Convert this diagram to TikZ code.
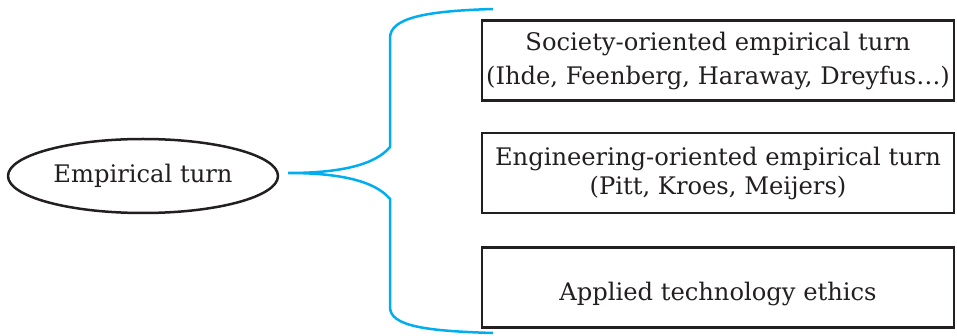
\documentclass[tikz,border=0pt]{standalone}
\usepackage{fontspec}
\setmainfont{DejaVu Serif}
\usetikzlibrary{shapes.geometric}
\usetikzlibrary{positioning}
\definecolor{bracecyan}{RGB}{0,174,239}
\definecolor{inkgray}{RGB}{35,31,32}

\begin{document}
\begin{tikzpicture}[x=1pt,y=-1pt,
  turnfont/.style={font=\fontsize{24.2}{31}\selectfont, text=inkgray},
  turnbox/.style={turnfont, draw=inkgray, line width=2.5pt, minimum width=472pt, minimum height=80pt, inner sep=0pt, align=center}]
\useasboundingbox (0,0) rectangle (957,336);
\node[turnfont, ellipse, draw=inkgray, line width=2.5pt, minimum width=270pt, minimum height=74pt, inner sep=0pt] (turn) at (143,176) {Empirical turn};
\node[turnbox, font=\fontsize{24.2}{34}\selectfont] (society) at (718,60.5) {Society-oriented empirical turn\\(Ihde, Feenberg, Haraway, Dreyfus\ldots)};
\node[turnbox, font=\fontsize{24.2}{29}\selectfont, below=30pt of society] (engineering) {Engineering-oriented empirical turn\\(Pitt, Kroes, Meijers)};
\node[turnbox, below=32pt of engineering] (ethics) {~\\Applied technology ethics};
\coordinate (tip) at ([shift={(9,-3)}]turn.east);
\coordinate (top) at (493,9);
\coordinate (bottom) at (493,333);
\draw[bracecyan, line width=2.5pt] (top) .. controls (425,11) and (390,18) .. (390,38) -- (390,147)
  .. controls (375,165) and (340,173) .. (tip)
  .. controls (340,173) and (375,181) .. (390,199) -- (390,307)
  .. controls (390,326) and (425,331) .. (bottom);
\end{tikzpicture}
\end{document}
